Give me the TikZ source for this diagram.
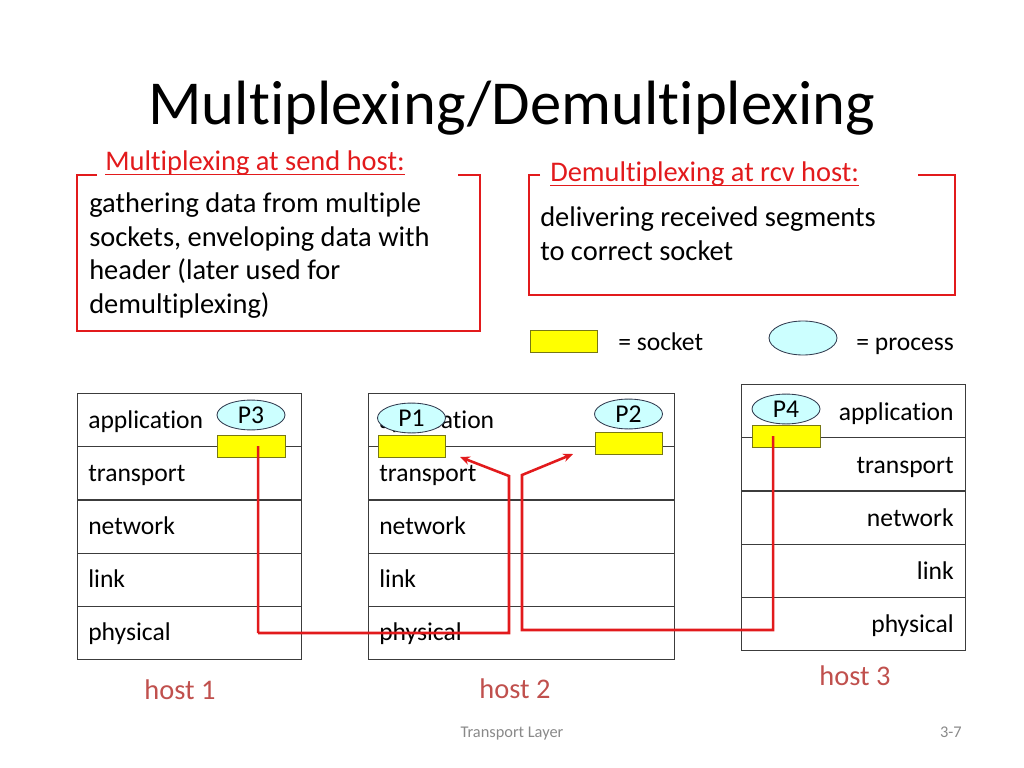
\documentclass[tikz,border=0pt]{standalone}
\usepackage{fontspec}
\setmainfont{Carlito}[Ligatures={NoCommon}]
\usetikzlibrary{arrows.meta,shapes.geometric}
\definecolor{redc}{RGB}{226,26,28}
\definecolor{hostc}{RGB}{192,80,77}
\definecolor{stackc}{RGB}{60,60,60}
\definecolor{sockfill}{RGB}{255,255,0}
\definecolor{sockdraw}{RGB}{120,120,20}
\definecolor{procfill}{RGB}{204,255,255}
\definecolor{procdraw}{RGB}{50,60,80}
\definecolor{footc}{RGB}{137,137,137}
\tikzset{
  layerbox/.style={draw=stackc, line width=0.8pt, anchor=north west, minimum height=37.4pt, inner sep=0pt},
  lbl/.style={inner sep=0pt, font=\fontsize{18}{22}\selectfont},
  bodytxt/.style={inner sep=0pt, anchor=base west, font=\fontsize{20}{24}\selectfont},
  hdrtxt/.style={inner sep=0pt, anchor=base west, text=redc, font=\fontsize{20}{24}\selectfont},
  sock/.style={draw=sockdraw, fill=sockfill, line width=0.6pt, minimum width=47.8pt, minimum height=15.5pt, inner sep=0pt},
  proc/.style={ellipse, draw=procdraw, fill=procfill, line width=0.6pt, minimum width=47.8pt, minimum height=21pt, inner sep=0pt, font=\fontsize{18}{22}\selectfont},
  frame/.style={draw=redc, line width=1.6pt},
  redline/.style={draw=redc, line width=1.8pt},
  arr/.style={-{Stealth[length=7pt,width=6pt]}},
  hostlbl/.style={inner sep=0pt, anchor=base, text=hostc, font=\fontsize{20}{24}\selectfont},
}
\begin{document}
\begin{tikzpicture}[x=0.703125pt, y=-0.703125pt]
\useasboundingbox (0,0) rectangle (1024,768);

% title
\node[inner sep=0pt, anchor=base, font=\fontsize{44}{53}\selectfont] (title) at (512,125) {Multiplexing/Demultiplexing};

% left frame
\node[hdrtxt] (hdr1) at (105,171) {Multiplexing at send host:};
\draw[redc, line width=0.9pt] ([yshift=-2.6pt]hdr1.base west) -- ([yshift=-2.6pt]hdr1.base east);
\coordinate (f1a) at (97,175);
\coordinate (f1b) at (77,175);
\coordinate (f1c) at (77,331);
\coordinate (f1d) at (480,331);
\coordinate (f1e) at (480,175);
\coordinate (f1f) at (458,175);
\draw[frame] (f1a) -- (f1b) -- (f1c) -- (f1d) -- (f1e) -- (f1f);
\node[bodytxt] (b1) at (89,213) {gathering data from multiple};
\node[bodytxt] (b2) at (89,246.5) {sockets, enveloping data with};
\node[bodytxt] (b3) at (89,280) {header (later used for};
\node[bodytxt] (b4) at (89,313.5) {demultiplexing)};

% right frame
\node[hdrtxt] (hdr2) at (550,182) {Demultiplexing at rcv host:};
\draw[redc, line width=0.9pt] ([yshift=-2.6pt]hdr2.base west) -- ([yshift=-2.6pt]hdr2.base east);
\coordinate (f2a) at (540,175);
\coordinate (f2b) at (529,175);
\coordinate (f2c) at (529,295);
\coordinate (f2d) at (955,295);
\coordinate (f2e) at (955,175);
\coordinate (f2f) at (918,175);
\draw[frame] (f2a) -- (f2b) -- (f2c) -- (f2d) -- (f2e) -- (f2f);
\node[bodytxt] (d1) at (540,227) {delivering received segments};
\node[bodytxt] (d2) at (540,260.5) {to correct socket};

% legend
\node[sock, minimum width=47.1pt] (legs) at (563.5,341) {};
\node[lbl, anchor=base west] (legst) at (618,350) {= socket};
\node[proc, minimum height=23.9pt] (legp) at (803,338) {};
\node[lbl, anchor=base west] (legpt) at (856,350) {= process};

% host 1
\node[layerbox, minimum width=157.5pt] (h1l1) at (77,393) {};
\node[layerbox, minimum width=157.5pt] (h1l2) at (77,446.2) {};
\node[layerbox, minimum width=157.5pt] (h1l3) at (77,499.4) {};
\node[layerbox, minimum width=157.5pt] (h1l4) at (77,552.6) {};
\node[layerbox, minimum width=157.5pt] (h1l5) at (77,605.8) {};
\node[lbl, anchor=base west] (h1t1) at (88,428) {application};
\node[lbl, anchor=base west] (h1t2) at (88,481.2) {transport};
\node[lbl, anchor=base west] (h1t3) at (88,534.4) {network};
\node[lbl, anchor=base west] (h1t4) at (88,587.6) {link};
\node[lbl, anchor=base west] (h1t5) at (88,640.8) {physical};

% host 2
\node[layerbox, minimum width=215.2pt] (h2l1) at (368,393) {};
\node[layerbox, minimum width=215.2pt] (h2l2) at (368,446.2) {};
\node[layerbox, minimum width=215.2pt] (h2l3) at (368,499.4) {};
\node[layerbox, minimum width=215.2pt] (h2l4) at (368,552.6) {};
\node[layerbox, minimum width=215.2pt] (h2l5) at (368,605.8) {};
\node[lbl, anchor=base west] (h2t1) at (379,428) {application};
\node[lbl, anchor=base west] (h2t2) at (379,481.2) {transport};
\node[lbl, anchor=base west] (h2t3) at (379,534.4) {network};
\node[lbl, anchor=base west] (h2t4) at (379,587.6) {link};
\node[lbl, anchor=base west] (h2t5) at (379,640.8) {physical};

% host 3
\node[layerbox, minimum width=157.5pt] (h3l1) at (741,384) {};
\node[layerbox, minimum width=157.5pt] (h3l2) at (741,437.2) {};
\node[layerbox, minimum width=157.5pt] (h3l3) at (741,490.4) {};
\node[layerbox, minimum width=157.5pt] (h3l4) at (741,543.6) {};
\node[layerbox, minimum width=157.5pt] (h3l5) at (741,596.8) {};
\node[lbl, anchor=base east] (h3t1) at (954,420) {application};
\node[lbl, anchor=base east] (h3t2) at (954,473.2) {transport};
\node[lbl, anchor=base east] (h3t3) at (954,526.4) {network};
\node[lbl, anchor=base east] (h3t4) at (954,579.6) {link};
\node[lbl, anchor=base east] (h3t5) at (954,632.8) {physical};

% sockets and processes
\node[sock] (s3) at (251,446) {};
\node[proc] (p3) at (251,415) {P3};
\node[sock, minimum width=47.1pt] (s1) at (411.5,446.5) {};
\node[proc] (p1) at (411.5,418) {P1};
\node[sock, minimum width=47.1pt] (s2) at (628.5,443) {};
\node[proc] (p2) at (628.5,414) {P2};
\node[sock] (s4) at (786,436) {};
\node[proc] (p4) at (786,409) {P4};

% red connectors
\coordinate (r1a) at (258,633);
\coordinate (r1b) at (509,633);
\coordinate (r1c) at (509,476);
\coordinate (r1d) at (460,457);
\draw[redline, arr] ([xshift=5pt]s3.center) |- (r1a) -- (r1b) -- (r1c) -- (r1d);
\coordinate (r2a) at (773,630);
\coordinate (r2b) at (522,630);
\coordinate (r2c) at (522,475);
\coordinate (r2d) at (573,454);
\draw[redline, arr] ([xshift=-9pt]s4.center) |- (r2a) -- (r2b) -- (r2c) -- (r2d);

% host labels
\node[hostlbl] (host1) at (180,699) {host 1};
\node[hostlbl] (host2) at (515,698) {host 2};
\node[hostlbl] (host3) at (855,685) {host 3};

% footer
\node[inner sep=0pt, anchor=base, text=footc, font=\fontsize{11.5}{14}\selectfont] (foot) at (512,737) {Transport Layer};
\node[inner sep=0pt, anchor=base east, text=footc, font=\fontsize{11.5}{14}\selectfont] (pg) at (962,737) {3-7};
\end{tikzpicture}
\end{document}
